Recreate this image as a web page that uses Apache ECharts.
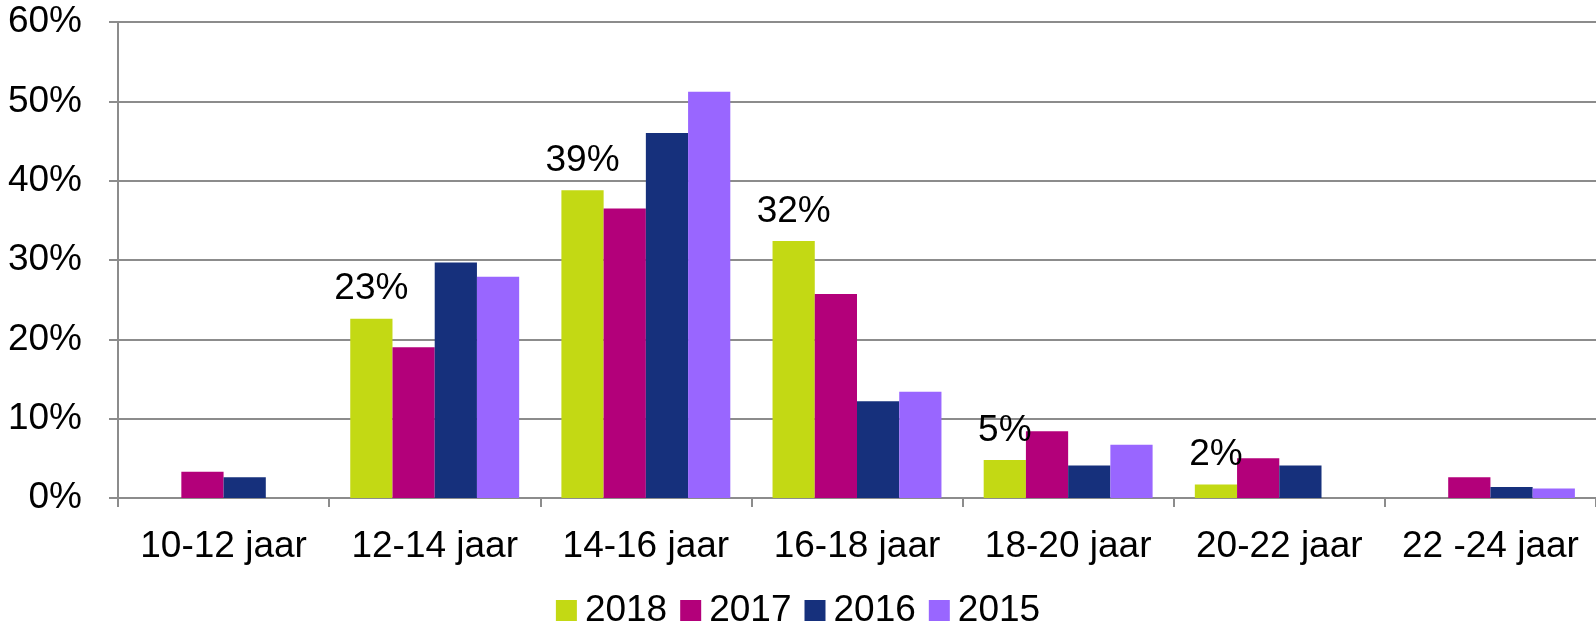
<!DOCTYPE html>
<html>
<head>
<meta charset="utf-8">
<script src="https://cdn.jsdelivr.net/npm/echarts@6/dist/echarts.min.js"></script>
<style>
  html, body { margin: 0; padding: 0; background: #fff; }
  #chart { width: 1596px; height: 623px; }
</style>
</head>
<body>
<div id="chart"></div>
<script>
  const categories = ['10-12 jaar', '12-14 jaar', '14-16 jaar', '16-18 jaar', '18-20 jaar', '20-22 jaar', '22 -24 jaar'];
  const years = ['2018', '2017', '2016', '2015'];
  const colors = ['#c3d914', '#b3007a', '#16307c', '#9966ff'];

  const v2018 = [null, 22.6, 38.8, 32.4, 4.8, 1.7, null];
  const v2017 = [3.3, 19.0, 36.5, 25.7, 8.4, 5.0, 2.6];
  const v2016 = [2.6, 29.7, 46.0, 12.2, 4.1, 4.1, 1.4];
  const v2015 = [null, 27.9, 51.2, 13.4, 6.7, null, 1.2];

  const yTicks = [0, 10, 20, 30, 40, 50, 60];

  const font = 'Liberation Sans, Arial, sans-serif';
  const grey = '#8c8c8c';
  const fs = 37;

  const seriesData = [v2018, v2017, v2016, v2015];

  const chart = echarts.init(document.getElementById('chart'));
  chart.setOption({
    animation: false,
    textStyle: { fontFamily: font, color: '#000' },
    grid: { left: 118, right: 0, top: 22, bottom: 125 },
    legend: {
      data: years,
      bottom: -11,
      left: 'center',
      itemWidth: 21,
      itemHeight: 21,
      itemGap: 13,
      icon: 'rect',
      textStyle: { fontSize: fs, fontFamily: font, color: '#000', padding: [0, 0, 0, 3] }
    },
    xAxis: {
      type: 'category',
      data: categories,
      axisLine: { lineStyle: { color: grey, width: 2 } },
      axisTick: { show: true, length: 9, lineStyle: { color: grey, width: 2 } },
      axisLabel: { fontSize: fs, color: '#000', margin: 30, fontFamily: font, interval: 0 }
    },
    yAxis: {
      type: 'value',
      min: yTicks[0],
      max: yTicks[yTicks.length - 1],
      interval: 10,
      axisLine: { show: true, lineStyle: { color: grey, width: 2 } },
      axisTick: { show: true, length: 9, lineStyle: { color: grey, width: 2 } },
      splitLine: { lineStyle: { color: grey, width: 2 } },
      axisLabel: { fontSize: fs, color: '#000', margin: 36, fontFamily: font, formatter: '{value}%' }
    },
    series: seriesData.map((d, i) => ({
      name: years[i],
      type: 'bar',
      data: d,
      barGap: '0%',
      barCategoryGap: '20%',
      itemStyle: { color: colors[i] },
      label: i === 0 ? {
        show: true,
        position: 'top',
        distance: 11,
        fontSize: fs,
        color: '#000',
        fontFamily: font,
        formatter: p => Math.round(p.value) + '%'
      } : { show: false }
    }))
  });
</script>
</body>
</html>
